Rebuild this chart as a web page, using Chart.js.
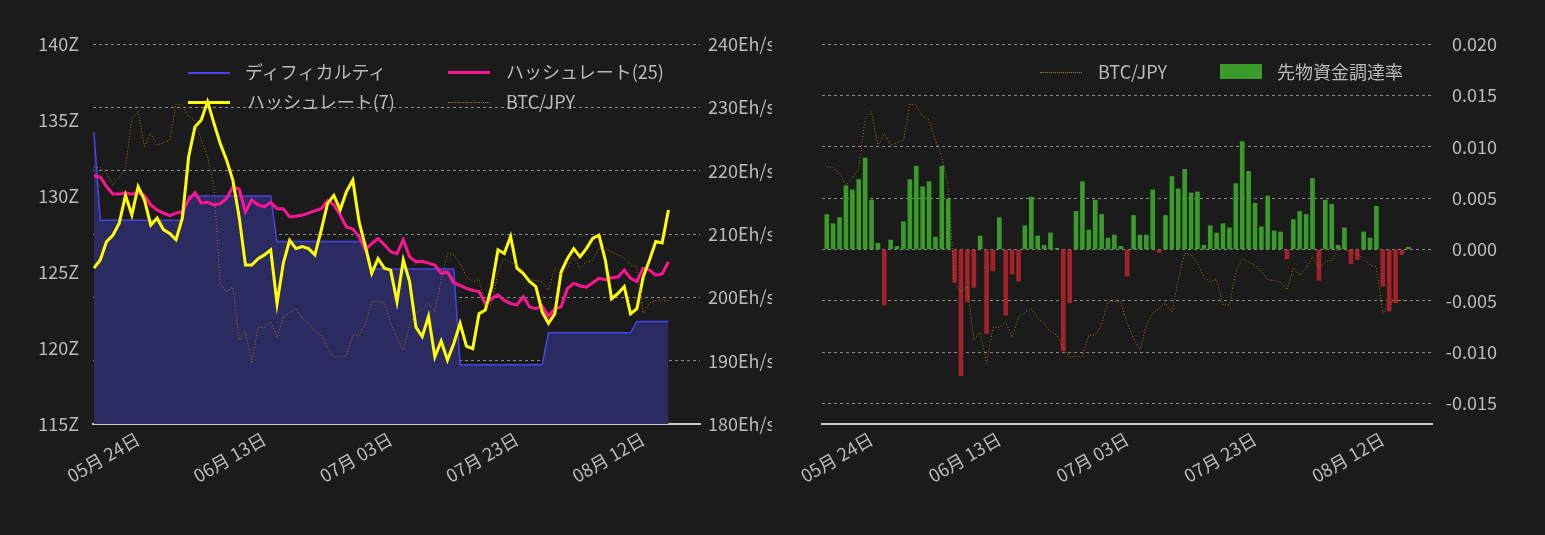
<!DOCTYPE html>
<html><head><meta charset="utf-8">
<script src="https://cdn.jsdelivr.net/npm/chart.js@4"></script>
<style>
body{margin:0;background:#1b1b1b;width:1545px;height:535px;overflow:hidden;font-family:"Noto Sans CJK JP","Noto Sans",sans-serif;}
#c1{position:absolute;left:0;top:0;}
#c2{position:absolute;left:772px;top:0;}
.lg{position:absolute;color:#bbb;font-size:18px;line-height:20px;white-space:nowrap;}
.sw{position:absolute;width:42px;}
</style></head><body>
<canvas id="c1" width="772" height="535" style="width:772px;height:535px"></canvas>
<canvas id="c2" width="773" height="535" style="width:773px;height:535px"></canvas>
<div class="sw" style="left:188px;top:72px;border-top:2px solid #4646e6"></div><div class="lg" style="left:245px;top:61px">ディフィカルティ</div>
<div class="sw" style="left:448px;top:71px;border-top:3px solid #ff1493"></div><div class="lg" style="left:506px;top:61px">ハッシュレート(25)</div>
<div class="sw" style="left:188px;top:101px;border-top:3px solid #ffff00"></div><div class="lg" style="left:247px;top:91px">ハッシュレート(7)</div>
<div class="sw" style="left:448px;top:102px;border-top:1px dotted #b07a10"></div><div class="lg" style="left:506px;top:91px">BTC/JPY</div>
<div class="sw" style="left:1040px;top:72px;border-top:1px dotted #b07a10"></div><div class="lg" style="left:1098px;top:61px">BTC/JPY</div>
<div class="sw" style="left:1220px;top:64px;height:15px;background:#3a9a2a"></div><div class="lg" style="left:1277px;top:61px">先物資金調達率</div>
<script>
const startDate = [2022, 4, 17]; // day 0 = 05-17
const tickDays = [7, 27, 47, 67, 87];
const difficulty = [134.2,128.4,128.4,128.4,128.4,128.4,128.4,128.4,128.4,128.4,128.4,128.4,128.4,128.4,128.4,
130.0,130.0,130.0,130.0,130.0,130.0,130.0,130.0,130.0,130.0,130.0,130.0,130.0,130.0,
127.0,127.0,127.0,127.0,127.0,127.0,127.0,127.0,127.0,127.0,127.0,127.0,127.0,127.0,127.0,
125.2,125.2,125.2,125.2,125.2,125.2,125.2,125.2,125.2,125.2,125.2,125.2,125.2,125.2,
118.9,118.9,118.9,118.9,118.9,118.9,118.9,118.9,118.9,118.9,118.9,118.9,118.9,118.9,
121.0,121.0,121.0,121.0,121.0,121.0,121.0,121.0,121.0,121.0,121.0,121.0,121.0,121.0,
121.75,121.75,121.75,121.75,121.75,121.75];
const hash7 = [204.6,205.9,208.8,209.8,211.7,216.1,213.0,217.5,215.4,211.4,212.5,210.7,210.1,209.1,212.5,222.2,226.9,228.0,230.9,227.5,
224.3,221.7,218.5,212.7,205.1,205.1,206.1,206.7,207.5,199.0,205.4,209.0,207.7,208.0,207.7,206.7,210.6,214.8,216.1,213.8,
216.7,218.5,211.9,208.0,203.8,206.1,204.6,204.3,199.3,205.9,202.5,195.3,193.8,197.0,190.6,193.1,190.1,192.7,195.9,192.3,
191.9,197.4,198.0,201.7,207.5,206.9,209.6,204.6,203.8,202.5,201.7,197.7,195.9,197.4,204.0,206.1,207.7,206.4,207.7,209.3,
209.8,205.9,199.8,200.6,201.7,197.4,198.2,203.2,205.9,208.8,208.6,213.8];
const hash25 = [219.2,219.0,217.5,216.3,216.3,216.5,216.3,216.5,216.1,214.6,213.8,213.3,212.9,213.3,213.5,215.4,216.5,214.9,215.0,214.6,
214.8,215.6,217.4,217.1,213.5,215.4,214.6,214.3,215.0,214.0,214.0,212.7,212.8,213.0,213.3,213.7,214.0,215.3,214.6,213.0,
211.1,210.8,209.6,207.5,208.5,209.3,208.3,207.2,206.9,209.1,206.4,205.6,205.7,205.4,205.1,203.8,204.0,202.3,201.9,201.4,
201.1,200.9,199.0,199.8,200.4,199.5,199.0,198.8,200.1,198.5,198.2,198.6,197.0,198.2,198.5,201.4,202.2,201.8,201.6,202.3,
203.0,202.8,203.1,203.2,204.3,203.0,202.5,204.6,204.3,203.5,203.7,205.6];
const btcjpy = [67.7,67.5,66.0,62.9,64.9,67.3,80.4,82.2,73.0,76.5,73.4,74.0,74.7,84.2,83.9,80.9,80.0,74.7,70.3,62.4,
37.0,34.8,36.1,22.1,24.3,16.0,25.4,25.4,26.9,22.8,28.2,29.3,30.4,27.8,26.5,24.3,23.4,19.9,17.7,17.7,
17.9,23.4,23.4,26.1,32.2,32.2,32.0,26.5,22.5,19.5,26.1,29.1,30.4,31.8,29.6,37.9,44.9,44.5,42.3,38.8,
37.4,38.0,31.3,31.3,40.1,43.6,42.5,41.8,40.1,38.0,37.7,37.4,35.3,41.0,39.2,41.0,44.0,41.0,42.7,43.1,
46.2,46.1,45.2,44.5,43.6,41.8,41.4,29.1,31.8,32.5,32.6,32.5];
const funding = [0.0034,0.0025,0.0031,0.0062,0.0058,0.0068,0.0089,0.0048,0.0006,-0.0054,0.0009,0.0003,0.0027,0.0068,0.0081,0.0061,0.0066,0.0012,0.0081,0.0049,
-0.0032,-0.0123,-0.0051,-0.0037,0.0013,-0.0082,-0.0021,0.0031,-0.0064,-0.0024,-0.0031,0.0023,0.0051,0.0013,0.0004,0.0016,0.0001,-0.0099,-0.0052,0.0037,
0.0066,0.0019,0.0048,0.0034,0.0011,0.0014,0.0003,-0.0026,0.0033,0.0014,0.0014,0.0058,-0.0003,0.0033,0.0071,0.0059,0.0078,0.0055,0.0056,0.0004,
0.0023,0.0016,0.0025,0.0021,0.0064,0.0105,0.0076,0.0045,0.0022,0.0052,0.0018,0.0017,-0.0009,0.0029,0.0037,0.0034,0.0069,-0.0030,0.0048,0.0044,
0.0004,0.0021,-0.0014,-0.0010,0.0017,0.0011,0.0042,-0.0036,-0.0060,-0.0052,-0.0005,0.0002];

const pts = a => a.map((v,i)=>({x:i,y:v}));
function dayLabel(d){const dt=new Date(startDate[0],startDate[1],startDate[2]+d);
 return String(dt.getMonth()+1).padStart(2,'0')+'月 '+String(dt.getDate()).padStart(2,'0')+'日';}
const FONT={family:'"Noto Sans CJK JP","Noto Sans",sans-serif',size:18};
const TC='#bbb', GC='#8a8a8a';
function xAxis(min,max){return {type:'linear',min,max,
  afterBuildTicks:s=>{s.ticks=tickDays.map(v=>({value:v}));},
  afterFit:s=>{s.height=111;},
  ticks:{color:TC,font:FONT,minRotation:30,maxRotation:30,autoSkip:false,callback:v=>dayLabel(v),padding:4},
  grid:{display:false,drawTicks:false},border:{display:true,color:'#ccc',width:2}};}
const btcDs = {type:'line',label:'BTC/JPY',data:pts(btcjpy),yAxisID:'yb',borderColor:'#a8720f',borderWidth:1,borderDash:[1,2],pointRadius:0,tension:0,order:0};

new Chart(document.getElementById('c1'),{
 type:'line',
 data:{datasets:[
  {label:'ハッシュレート(7)',data:pts(hash7),yAxisID:'y2',borderColor:'#ffff00',borderWidth:3,pointRadius:0,order:1},
  {label:'ハッシュレート(25)',data:pts(hash25),yAxisID:'y2',borderColor:'#ff1493',borderWidth:3,pointRadius:0,order:2},
  btcDs,
  {label:'ディフィカルティ',data:pts(difficulty),yAxisID:'y',borderColor:'#4646e6',borderWidth:1.5,backgroundColor:'#2b2b62',fill:'start',pointRadius:0,order:5},
 ]},
 options:{responsive:false,animation:false,layout:{padding:{top:44,left:0,right:0,bottom:0}},
  plugins:{legend:{display:false},tooltip:{enabled:false}},
  scales:{
   x:xAxis(-0.15,96),
   y:{position:'left',min:115,max:140,afterFit:s=>{s.width=93;},ticks:{stepSize:5,color:TC,font:FONT,padding:6,callback:v=>v+'Z'},grid:{display:false},border:{display:false}},
   y2:{position:'right',min:180,max:240,afterFit:s=>{s.width=72;},ticks:{stepSize:10,color:TC,font:FONT,padding:8,callback:v=>v+'Eh/s'},grid:{color:GC,tickLength:0,drawTicks:false},border:{display:false,dash:[3,3]}},
   yb:{display:false,min:0,max:100}
  }}
});
// dashed grid
Chart.defaults.scale.grid.lineWidth=1;
new Chart(document.getElementById('c2'),{
 type:'bar',
 data:{datasets:[
  Object.assign({},btcDs),
  {type:'bar',label:'先物資金調達率',data:pts(funding),yAxisID:'y',backgroundColor:funding.map(v=>v>=0?'#3a9a2a':'#a2232b'),barThickness:4,order:3}
 ]},
 options:{responsive:false,animation:false,layout:{padding:{top:44,left:50,right:48,bottom:0}},
  plugins:{legend:{display:false},tooltip:{enabled:false}},
  scales:{
   x:Object.assign(xAxis(-0.75,94.7),{offset:false}),
   y:{position:'right',min:-0.017,max:0.020,afterFit:s=>{s.width=65;},
     afterBuildTicks:s=>{s.ticks=[-0.015,-0.01,-0.005,0,0.005,0.01,0.015,0.02].map(v=>({value:v}));},
     ticks:{color:TC,font:FONT,padding:8,crossAlign:'far',callback:v=>v.toFixed(3)},grid:{color:GC,drawTicks:false},border:{display:false,dash:[3,3]}},
   yb:{display:false,min:0,max:100}
  }}
});
</script>
<script>
// apply dashed grid lines after render by re-drawing with dash
for(const id of ['c1','c2']){const ch=Chart.getChart(id);
 for(const k of ['y2','y']){ if(ch.options.scales[k] && ch.options.scales[k].grid.display!==false){ch.options.scales[k].border.dash=[3,3];ch.options.scales[k].grid.borderDash=[3,3];}}
}
</script>
<script>
Chart.getChart('c1').options.scales.y2.border.dash=[3,3];
</script>
</body></html>
